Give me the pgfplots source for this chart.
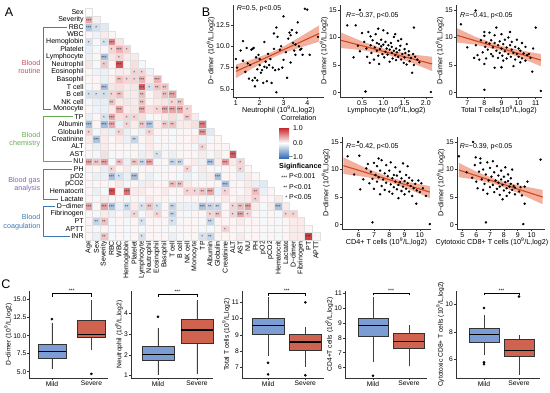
\documentclass[border=0pt]{standalone}
\usepackage{fontspec}
\setmainfont{Liberation Sans}
\usepackage{pgfplots}
\pgfplotsset{compat=1.18}
\usepgfplotslibrary{statistics}
\newcommand\fs[1]{\fontsize{#1}{#1}\selectfont}
\newcommand\nine{10\textsuperscript{9}/L,log2}
\definecolor{mildc}{RGB}{124,156,212}
\definecolor{sevc}{RGB}{208,98,80}
\definecolor{fitc}{RGB}{212,70,28}
\definecolor{bandc}{RGB}{238,150,125}
\definecolor{cred}{RGB}{200,40,45}
\definecolor{cblue}{RGB}{52,110,180}
\definecolor{grR}{RGB}{200,75,90}
\definecolor{grG}{RGB}{100,170,80}
\definecolor{grP}{RGB}{130,100,170}
\definecolor{grB}{RGB}{60,120,180}
\pgfplotsset{
 base/.style={scale only axis, anchor=north west, axis x line*=bottom, axis y line*=left,
   axis line style={line width=0.55pt, black!80},
   every tick/.style={black!80, line width=0.5pt},
   tick align=outside, major tick length=2pt,
   /pgf/number format/assume math mode=true,
   xticklabel style={inner sep=1pt}, yticklabel style={inner sep=1pt},
   xlabel style={inner sep=0pt}, ylabel style={inner sep=0pt}},
 sB/.style={base, ticklabel style={font=\fs{7}}, label style={font=\fs{7.2}},
   ylabel={D−dimer (\nine)}, ymin=-0.8, ymax=15.9, ytick={0,5,10,15}},
 sC/.style={base, clip=false, ticklabel style={font=\fs{6.7}}, label style={font=\fs{6.7}},
   xtick={1,2}, xticklabels={Mild,Severe},
   boxplot/draw direction=y,
   boxplot/every median/.style={line width=1.3pt, black},
   boxplot/every whisker/.style={black!75, line width=0.6pt},
   boxplot/every box/.style={draw=black!80, line width=0.5pt}},
 pts/.style={only marks, mark=*, mark size=1pt, black},
 fitl/.style={fitc, line width=1.1pt},
 band/.style={draw=none, fill=bandc, fill opacity=0.75},
 mbox/.style={fill=mildc, mark=*, mark size=1.1pt, mark options={black, fill=black}},
 sbox/.style={fill=sevc, mark=*, mark size=1.1pt, mark options={black, fill=black}},
 stars/.style={only marks, mark=text, text mark={#1}, text mark as node=true,
   text mark style={font=\fs{4.5}, yshift=-1pt, text=black!85, inner sep=0pt}},
}
\begin{document}
\begin{tikzpicture}
\useasboundingbox (0pt,0pt) rectangle (550pt,-392pt);
% ---------------- Panel A: heatmap
\begin{axis}[scale only axis, anchor=north west, at={(85pt,-8.3pt)}, width=234.7pt, height=231.6pt,
  xmin=-0.5, xmax=30.5, ymin=-31.5, ymax=-0.5, clip=false,
  axis line style={draw=none}, major tick length=0pt,
  xtick={0,1,...,30}, ytick={-31,-30,...,-1},
  xticklabels={Age,Sex,Severity,RBC,WBC,Hemoglobin,Platelet,Lymphocyte,Neutrophil,Eosinophil,Basophil,T cell,B cell,NK cell,Monocyte,TP,Albumin,Globulin,Creatinine,ALT,AST,NU,PH,pO2,pCO2,Hematocrit,Lactate,D−dimer,Fibrinogen,PT,APTT},
  yticklabels={INR,APTT,PT,Fibrinogen,D−dimer,Lactate,Hematocrit,pCO2,pO2,PH,NU,AST,ALT,Creatinine,Globulin,Albumin,TP,Monocyte,NK cell,B cell,T cell,Basophil,Eosinophil,Neutrophil,Lymphocyte,Platelet,Hemoglobin,WBC,RBC,Severity,Sex},
  xticklabel style={rotate=90, anchor=east, font=\fs{7}, inner sep=1pt},
  yticklabel style={font=\fs{7}, inner sep=1.2pt},
  colormap={corr}{rgb255(0cm)=(52,110,180); rgb255(1cm)=(255,255,255); rgb255(2cm)=(200,40,45)},
  point meta min=-1, point meta max=1]
\addplot[scatter, only marks, mark=square*, mark size=3.76pt, point meta=explicit,
  scatter/use mapped color={draw=black!12, fill=mapped color, line width=0.3pt}] coordinates {
(0,-1)[0.02]
(0,-2)[0.40] (1,-2)[0.08]
(0,-3)[-0.38] (1,-3)[-0.22] (2,-3)[-0.15]
(0,-4)[0.05] (1,-4)[-0.08] (2,-4)[0.10] (3,-4)[0.05]
(0,-5)[-0.20] (1,-5)[-0.05] (2,-5)[-0.20] (3,-5)[0.55] (4,-5)[0.12]
(0,-6)[-0.12] (1,-6)[-0.05] (2,-6)[0.05] (3,-6)[0.20] (4,-6)[0.35] (5,-6)[0.22]
(0,-7)[-0.10] (1,-7)[0.05] (2,-7)[-0.42] (3,-7)[0.12] (4,-7)[0.20] (5,-7)[0.10] (6,-7)[0.10]
(0,-8)[0.12] (1,-8)[-0.05] (2,-8)[0.25] (3,-8)[0.05] (4,-8)[0.80] (5,-8)[0.05] (6,-8)[0.15] (7,-8)[-0.05]
(0,-9)[0.05] (1,-9)[-0.08] (2,-9)[-0.10] (3,-9)[0.05] (4,-9)[0.10] (5,-9)[0.08] (6,-9)[0.20] (7,-9)[0.20] (8,-9)[-0.08]
(0,-10)[0.05] (1,-10)[0.05] (2,-10)[-0.10] (3,-10)[0.08] (4,-10)[0.28] (5,-10)[0.20] (6,-10)[0.20] (7,-10)[0.35] (8,-10)[0.10] (9,-10)[0.35]
(0,-11)[-0.05] (1,-11)[0.05] (2,-11)[-0.42] (3,-11)[0.12] (4,-11)[0.15] (5,-11)[0.10] (6,-11)[0.12] (7,-11)[0.75] (8,-11)[-0.20] (9,-11)[0.28] (10,-11)[0.28]
(0,-12)[-0.20] (1,-12)[-0.20] (2,-12)[-0.22] (3,-12)[0.20] (4,-12)[0.28] (5,-12)[0.10] (6,-12)[0.10] (7,-12)[0.30] (8,-12)[0.05] (9,-12)[0.15] (10,-12)[0.30] (11,-12)[0.42]
(0,-13)[-0.05] (1,-13)[-0.10] (2,-13)[-0.12] (3,-13)[0.28] (4,-13)[0.10] (5,-13)[0.12] (6,-13)[0.10] (7,-13)[0.28] (8,-13)[0.05] (9,-13)[0.10] (10,-13)[0.12] (11,-13)[0.20] (12,-13)[0.28]
(0,-14)[0.05] (1,-14)[-0.08] (2,-14)[-0.10] (3,-14)[0.10] (4,-14)[0.40] (5,-14)[0.10] (6,-14)[0.12] (7,-14)[0.40] (8,-14)[0.15] (9,-14)[0.20] (10,-14)[0.42] (11,-14)[0.42] (12,-14)[0.42] (13,-14)[0.20]
(0,-15)[-0.10] (1,-15)[0.05] (2,-15)[-0.20] (3,-15)[0.40] (4,-15)[0.15] (5,-15)[0.20] (6,-15)[0.20] (7,-15)[0.15] (8,-15)[-0.05] (9,-15)[0.05] (10,-15)[0.10] (11,-15)[0.15] (12,-15)[0.10] (13,-15)[0.25] (14,-15)[0.10]
(0,-16)[-0.42] (1,-16)[0.05] (2,-16)[-0.45] (3,-16)[0.40] (4,-16)[-0.10] (5,-16)[0.20] (6,-16)[0.10] (7,-16)[0.28] (8,-16)[-0.40] (9,-16)[0.10] (10,-16)[0.25] (11,-16)[0.28] (12,-16)[0.10] (13,-16)[0.10] (14,-16)[0.15] (15,-16)[0.60]
(0,-17)[0.20] (1,-17)[-0.05] (2,-17)[0.10] (3,-17)[-0.10] (4,-17)[0.20] (5,-17)[-0.10] (6,-17)[0.05] (7,-17)[-0.10] (8,-17)[0.20] (9,-17)[0.05] (10,-17)[0.05] (11,-17)[-0.05] (12,-17)[0.05] (13,-17)[0.05] (14,-17)[0.05] (15,-17)[0.50] (16,-17)[-0.15]
(0,-18)[0.10] (1,-18)[-0.40] (2,-18)[0.10] (3,-18)[0.05] (4,-18)[0.10] (5,-18)[-0.10] (6,-18)[-0.28] (7,-18)[0.05] (8,-18)[0.10] (9,-18)[-0.05] (10,-18)[0.05] (11,-18)[-0.05] (12,-18)[0.05] (13,-18)[0.05] (14,-18)[0.10] (15,-18)[-0.10] (16,-18)[-0.05] (17,-18)[0.05]
(0,-19)[0.05] (1,-19)[-0.10] (2,-19)[0.10] (3,-19)[0.05] (4,-19)[0.05] (5,-19)[0.05] (6,-19)[0.05] (7,-19)[-0.05] (8,-19)[0.10] (9,-19)[0.05] (10,-19)[-0.05] (11,-19)[0.05] (12,-19)[0.05] (13,-19)[0.05] (14,-19)[-0.05] (15,-19)[0.20] (16,-19)[0.05] (17,-19)[0.05] (18,-19)[0.05]
(0,-20)[0.05] (1,-20)[-0.05] (2,-20)[0.15] (3,-20)[-0.05] (4,-20)[0.05] (5,-20)[-0.05] (6,-20)[0.05] (7,-20)[-0.10] (8,-20)[0.10] (9,-20)[-0.20] (10,-20)[0.05] (11,-20)[-0.10] (12,-20)[0.05] (13,-20)[0.05] (14,-20)[0.05] (15,-20)[0.10] (16,-20)[-0.05] (17,-20)[0.10] (18,-20)[0.05] (19,-20)[0.75]
(0,-21)[0.42] (1,-21)[0.28] (2,-21)[0.42] (3,-21)[-0.05] (4,-21)[0.28] (5,-21)[-0.10] (6,-21)[0.28] (7,-21)[-0.28] (8,-21)[0.42] (9,-21)[-0.05] (10,-21)[0.05] (11,-21)[-0.28] (12,-21)[-0.28] (13,-21)[0.05] (14,-21)[0.10] (15,-21)[-0.10] (16,-21)[-0.42] (17,-21)[0.10] (18,-21)[0.45] (19,-21)[0.10] (20,-21)[0.20]
(0,-22)[0.05] (1,-22)[0.05] (2,-22)[-0.10] (3,-22)[0.20] (4,-22)[0.05] (5,-22)[0.10] (6,-22)[-0.05] (7,-22)[0.05] (8,-22)[0.05] (9,-22)[0.05] (10,-22)[-0.05] (11,-22)[0.05] (12,-22)[0.05] (13,-22)[0.20] (14,-22)[-0.05] (15,-22)[0.10] (16,-22)[0.05] (17,-22)[-0.05] (18,-22)[0.05] (19,-22)[0.05] (20,-22)[0.20] (21,-22)[0.05]
(0,-23)[0.05] (1,-23)[-0.10] (2,-23)[-0.10] (3,-23)[-0.42] (4,-23)[-0.20] (5,-23)[-0.10] (6,-23)[-0.42] (7,-23)[0.05] (8,-23)[-0.10] (9,-23)[-0.05] (10,-23)[0.05] (11,-23)[0.05] (12,-23)[-0.05] (13,-23)[-0.10] (14,-23)[-0.05] (15,-23)[-0.10] (16,-23)[0.10] (17,-23)[-0.42] (18,-23)[0.05] (19,-23)[0.05] (20,-23)[-0.10] (21,-23)[0.10] (22,-23)[0.05]
(0,-24)[0.05] (1,-24)[0.05] (2,-24)[0.05] (3,-24)[0.05] (4,-24)[0.10] (5,-24)[-0.05] (6,-24)[0.05] (7,-24)[-0.10] (8,-24)[0.10] (9,-24)[0.05] (10,-24)[0.05] (11,-24)[0.30] (12,-24)[0.30] (13,-24)[0.10] (14,-24)[0.05] (15,-24)[0.05] (16,-24)[0.05] (17,-24)[0.05] (18,-24)[-0.42] (19,-24)[0.05] (20,-24)[0.05] (21,-24)[0.10] (22,-24)[-0.10] (23,-24)[-0.15]
(0,-25)[0.05] (1,-25)[-0.10] (2,-25)[-0.05] (3,-25)[0.80] (4,-25)[0.05] (5,-25)[0.65] (6,-25)[0.10] (7,-25)[0.10] (8,-25)[0.05] (9,-25)[0.05] (10,-25)[0.10] (11,-25)[0.05] (12,-25)[0.05] (13,-25)[0.20] (14,-25)[0.20] (15,-25)[0.28] (16,-25)[0.40] (17,-25)[-0.10] (18,-25)[0.20] (19,-25)[0.05] (20,-25)[0.05] (21,-25)[0.10] (22,-25)[0.30] (23,-25)[-0.10] (24,-25)[0.05]
(0,-26)[0.05] (1,-26)[0.05] (2,-26)[0.10] (3,-26)[-0.05] (4,-26)[0.05] (5,-26)[-0.05] (6,-26)[0.05] (7,-26)[-0.05] (8,-26)[0.10] (9,-26)[0.05] (10,-26)[0.05] (11,-26)[-0.05] (12,-26)[0.05] (13,-26)[0.05] (14,-26)[0.05] (15,-26)[0.05] (16,-26)[-0.05] (17,-26)[0.05] (18,-26)[0.10] (19,-26)[0.05] (20,-26)[0.10] (21,-26)[0.10] (22,-26)[0.22] (23,-26)[0.05] (24,-26)[0.05] (25,-26)[0.10]
(0,-27)[0.42] (1,-27)[0.05] (2,-27)[0.42] (3,-27)[-0.40] (4,-27)[-0.10] (5,-27)[-0.28] (6,-27)[0.10] (7,-27)[-0.20] (8,-27)[0.28] (9,-27)[-0.20] (10,-27)[0.05] (11,-27)[-0.28] (12,-27)[-0.10] (13,-27)[-0.10] (14,-27)[-0.10] (15,-27)[-0.40] (16,-27)[-0.28] (17,-27)[-0.28] (18,-27)[0.05] (19,-27)[0.20] (20,-27)[0.30] (21,-27)[0.42] (22,-27)[0.10] (23,-27)[-0.05] (24,-27)[0.10] (25,-27)[-0.42] (26,-27)[0.10]
(0,-28)[0.05] (1,-28)[-0.05] (2,-28)[0.10] (3,-28)[-0.10] (4,-28)[0.05] (5,-28)[-0.10] (6,-28)[0.20] (7,-28)[-0.05] (8,-28)[0.10] (9,-28)[0.20] (10,-28)[0.05] (11,-28)[-0.28] (12,-28)[0.05] (13,-28)[-0.05] (14,-28)[0.05] (15,-28)[0.05] (16,-28)[0.20] (17,-28)[0.28] (18,-28)[0.05] (19,-28)[0.20] (20,-28)[0.42] (21,-28)[0.20] (22,-28)[0.05] (23,-28)[-0.05] (24,-28)[0.05] (25,-28)[-0.05] (26,-28)[0.20] (27,-28)[0.20]
(0,-29)[0.05] (1,-29)[-0.28] (2,-29)[0.28] (3,-29)[-0.05] (4,-29)[0.05] (5,-29)[-0.05] (6,-29)[0.05] (7,-29)[-0.20] (8,-29)[0.05] (9,-29)[0.05] (10,-29)[0.05] (11,-29)[-0.20] (12,-29)[-0.05] (13,-29)[0.05] (14,-29)[0.05] (15,-29)[-0.05] (16,-29)[-0.28] (17,-29)[0.05] (18,-29)[0.05] (19,-29)[0.05] (20,-29)[0.10] (21,-29)[0.05] (22,-29)[0.05] (23,-29)[-0.05] (24,-29)[0.05] (25,-29)[-0.05] (26,-29)[0.05] (27,-29)[0.10] (28,-29)[0.10]
(0,-30)[0.05] (1,-30)[-0.05] (2,-30)[0.05] (3,-30)[-0.05] (4,-30)[0.05] (5,-30)[-0.05] (6,-30)[0.05] (7,-30)[-0.05] (8,-30)[0.05] (9,-30)[0.05] (10,-30)[-0.05] (11,-30)[-0.05] (12,-30)[0.05] (13,-30)[0.05] (14,-30)[0.05] (15,-30)[-0.05] (16,-30)[-0.05] (17,-30)[0.05] (18,-30)[0.20] (19,-30)[0.05] (20,-30)[0.05] (21,-30)[0.05] (22,-30)[0.05] (23,-30)[0.05] (24,-30)[-0.05] (25,-30)[0.05] (26,-30)[0.05] (27,-30)[0.10] (28,-30)[0.10] (29,-30)[0.05]
(0,-31)[0.05] (1,-31)[-0.10] (2,-31)[0.28] (3,-31)[-0.05] (4,-31)[0.05] (5,-31)[-0.05] (6,-31)[0.05] (7,-31)[-0.20] (8,-31)[0.05] (9,-31)[0.05] (10,-31)[0.05] (11,-31)[-0.10] (12,-31)[-0.05] (13,-31)[0.05] (14,-31)[0.05] (15,-31)[-0.20] (16,-31)[-0.28] (17,-31)[0.05] (18,-31)[0.05] (19,-31)[0.05] (20,-31)[0.10] (21,-31)[0.05] (22,-31)[0.05] (23,-31)[-0.05] (24,-31)[0.05] (25,-31)[-0.05] (26,-31)[0.05] (27,-31)[0.10] (28,-31)[0.10] (29,-31)[0.90] (30,-31)[0.05]
};
% significance stars
\addplot[stars={***}] coordinates {
(0,-2)(0,-3)(3,-5)(4,-6)(2,-7)(4,-8)(7,-10)(9,-10)(2,-11)(7,-11)(11,-12)(4,-14)(7,-14)(10,-14)(11,-14)(12,-14)(3,-15)
(0,-16)(2,-16)(3,-16)(8,-16)(15,-16)(15,-17)(1,-18)(19,-20)(0,-21)(2,-21)(8,-21)(16,-21)(18,-21)(3,-23)(6,-23)(17,-23)(18,-24)
(3,-25)(5,-25)(16,-25)(0,-27)(2,-27)(3,-27)(15,-27)(21,-27)(25,-27)(20,-28)(29,-31)};
\addplot[stars={**}] coordinates {
(4,-10)(9,-11)(10,-11)(4,-12)(7,-12)(10,-12)(3,-13)(7,-13)(12,-13)(13,-15)(7,-16)(10,-16)(11,-16)(6,-18)(1,-21)(4,-21)(6,-21)(7,-21)(11,-21)(12,-21)
(11,-24)(12,-24)(15,-25)(22,-25)(5,-27)(8,-27)(11,-27)(16,-27)(17,-27)(20,-27)(11,-28)(17,-28)(1,-29)(2,-29)(16,-29)(2,-31)(16,-31)};
\addplot[stars={*}] coordinates {
(1,-3)(0,-5)(2,-5)(3,-6)(5,-6)(4,-7)(2,-8)(6,-9)(7,-9)(5,-10)(6,-10)(8,-11)(0,-12)(1,-12)(2,-12)(3,-12)(11,-13)(9,-14)(13,-14)(2,-15)(5,-15)(6,-15)
(5,-16)(0,-17)(4,-17)(8,-17)(15,-19)(9,-20)(20,-21)(3,-22)(13,-22)(20,-22)(4,-23)(13,-25)(14,-25)(18,-25)(22,-26)(7,-27)(9,-27)(19,-27)
(6,-28)(9,-28)(16,-28)(19,-28)(21,-28)(26,-28)(27,-28)(7,-29)(11,-29)(18,-30)(7,-31)(15,-31)};
\end{axis}
% group brackets
\draw[grR, line width=0.6pt] (67pt,-27pt) -- (43pt,-27pt) -- (43pt,-109.1pt) -- (51pt,-109.1pt);
\draw[grG, line width=0.6pt] (73pt,-116.6pt) -- (43pt,-116.6pt) -- (43pt,-161.4pt) -- (72pt,-161.4pt);
\draw[grP, line width=0.6pt] (72pt,-168.9pt) -- (43pt,-168.9pt) -- (43pt,-198.8pt) -- (58pt,-198.8pt);
\draw[grB, line width=0.6pt] (55pt,-206.3pt) -- (43pt,-206.3pt) -- (43pt,-236.1pt) -- (70pt,-236.1pt);
\node[anchor=east, align=right, text=grR, font=\fontsize{7.2}{8.6}\selectfont, inner sep=0pt] at (40.5pt,-67pt) {Blood\\routine};
\node[anchor=east, align=right, text=grG, font=\fontsize{7.2}{8.6}\selectfont, inner sep=0pt] at (40.5pt,-139.5pt) {Blood\\chemistry};
\node[anchor=east, align=right, text=grP, font=\fontsize{7.2}{8.6}\selectfont, inner sep=0pt] at (40.5pt,-184.5pt) {Blood gas\\analysis};
\node[anchor=east, align=right, text=grB, font=\fontsize{7.2}{8.6}\selectfont, inner sep=0pt] at (40.5pt,-222pt) {Blood\\coagulation};
% colour bar legend
\node[anchor=west, font=\fs{7.2}, inner sep=0pt] at (281pt,-118pt) {Correlation};
\shade[top color=cred, bottom color=cblue, middle color=white] (279pt,-128pt) rectangle (289pt,-158pt);
\node[anchor=east, font=\fs{7}, inner sep=0pt] at (303pt,-128.5pt) {1.0};
\node[anchor=east, font=\fs{7}, inner sep=0pt] at (303pt,-143pt) {0.0};
\node[anchor=east, font=\fs{7}, inner sep=0pt] at (303pt,-157.5pt) {−1.0};
\node[anchor=west, font=\bfseries\fs{7.2}, inner sep=0pt] at (279pt,-166.5pt) {Siginficance};
\node[anchor=east, font=\fs{5}, inner sep=0pt] at (287.5pt,-177.5pt) {***};
\node[anchor=east, font=\fs{5}, inner sep=0pt] at (287.5pt,-187.7pt) {**};
\node[anchor=east, font=\fs{5}, inner sep=0pt] at (287.5pt,-197.7pt) {*};
\node[anchor=west, font=\fs{7}, inner sep=0pt] at (289pt,-176.5pt) {P<0.001};
\node[anchor=west, font=\fs{7}, inner sep=0pt] at (289pt,-186.7pt) {P<0.01};
\node[anchor=west, font=\fs{7}, inner sep=0pt] at (289pt,-196.7pt) {P<0.05};
% panel letters
\node[font=\fs{12.5}, inner sep=0pt] at (9pt,-12pt) {A};
\node[font=\fs{12.5}, inner sep=0pt] at (206pt,-11.7pt) {B};
\node[font=\fs{12.5}, inner sep=0pt] at (6pt,-284pt) {C};
% ---------------- Panel B
\begin{axis}[sB, at={(233pt,-4.5pt)}, width=91pt, height=92.5pt, xmin=0.88, xmax=4.7, ymin=4.05, ymax=14.9,
  xtick={1,2,3,4}, ytick={5,7.5,10,12.5}, yticklabels={5.0,7.5,10.0,12.5}, xlabel={Neutrophil (\nine)}]
\addplot[band] coordinates {(1,7.85)(1.5,8.29)(2,8.77)(2.6,9.43)(3,9.97)(3.5,10.78)(4,11.61)(4.5,12.45)(4.5,10.55)(4,10.11)(3.5,9.68)(3,9.21)(2.6,8.73)(2,7.87)(1.5,7.09)(1,6.25)};
\addplot[fitl] coordinates {(1,7.05)(4.5,11.5)};
\addplot[pts] coordinates {(1.0,8.5)(1.05,7.5)(1.2,9.5)(1.3,10.6)(1.3,8.3)(1.4,7.0)(1.45,9.8)(1.5,8.0)(1.55,6.2)(1.6,7.8)(1.65,9.6)(1.7,9.7)(1.7,6.0)(1.75,9.8)(1.8,6.3)(1.8,5.3)(1.85,8.7)(1.9,7.3)(1.9,6.0)(1.95,9.0)(2.0,8.5)(2.0,7.8)(2.05,6.9)(2.1,7.2)(2.15,5.7)(2.2,7.6)(2.2,10.5)(2.25,8.2)(2.3,5.9)(2.3,7.5)(2.35,9.1)(2.4,7.8)(2.45,8.5)(2.5,5.7)(2.55,7.5)(2.6,11.5)(2.6,9.7)(2.65,7.2)(2.7,12.2)(2.7,4.6)(2.75,11.1)(2.8,7.3)(2.85,9.6)(2.9,10.0)(2.95,7.5)(3.0,13.5)(3.0,8.4)(3.1,9.3)(3.15,6.3)(3.2,10.9)(3.25,11.6)(3.3,11.3)(3.3,8.1)(3.35,11.9)(3.4,10.4)(3.45,9.5)(3.5,9.0)(3.5,10.2)(3.55,11.6)(3.6,12.8)(3.65,10.0)(3.7,9.6)(3.75,9.7)(3.8,9.0)(3.9,14.4)(4.0,14.3)(4.1,9.0)(4.45,11.1)};
\node[anchor=west, font=\fs{7}, inner sep=0pt] at (rel axis cs:0.04,0.955) {\textit{R}=0.5, p<0.05};
\end{axis}
\begin{axis}[sB, at={(340pt,-5pt)}, width=93pt, height=92pt, xmin=-0.02, xmax=2.17,
  xtick={0.5,1,1.5,2}, xticklabels={0.5,1.0,1.5,2.0}, xlabel={Lymphocyte (\nine)}]
\addplot[band] coordinates {(0,10.9)(0.5,9.3)(1.1,7.75)(1.6,7.0)(2.15,6.5)(2.15,3.9)(1.6,5.6)(1.1,6.85)(0.5,7.7)(0,8.1)};
\addplot[fitl] coordinates {(0,9.5)(2.15,5.2)};
\addplot[pts] coordinates {(0.15,12.2)(0.35,12.2)(0.45,15.0)(0.3,6.4)(0.58,0.2)(2.12,0.1)(1.72,11.8)(1.68,3.6)(0.5,10.8)(0.55,9.2)(0.6,8.0)(0.62,6.5)(0.65,11.0)(0.7,10.2)(0.7,8.6)(0.72,7.2)(0.75,9.5)(0.78,6.0)(0.8,8.2)(0.82,10.6)(0.85,7.6)(0.85,9.0)(0.88,6.7)(0.9,8.8)(0.9,5.2)(0.92,7.9)(0.95,9.6)(0.95,8.4)(0.98,7.0)(1.0,11.3)(1.0,8.7)(1.02,6.4)(1.05,9.2)(1.05,7.4)(1.08,8.0)(1.1,10.8)(1.1,6.9)(1.12,8.6)(1.15,7.8)(1.15,5.6)(1.18,9.0)(1.2,7.2)(1.2,8.3)(1.22,6.2)(1.25,10.1)(1.25,7.6)(1.28,6.8)(1.3,8.0)(1.3,5.9)(1.32,7.3)(1.35,9.4)(1.35,6.5)(1.38,7.7)(1.4,8.5)(1.42,6.0)(1.45,7.0)(1.48,5.4)(1.5,7.9)(1.5,6.4)(1.52,7.2)(1.55,8.8)(1.55,5.1)(1.6,6.8)(1.6,7.5)(1.62,5.7)(1.65,6.3)(1.7,7.0)(1.72,5.0)(1.75,6.5)(1.8,6.0)(1.85,5.5)(0.4,8.5)(0.45,7.5)(0.68,5.4)(1.28,10.6)(0.88,11.6)(1.42,9.7)};
\node[anchor=west, font=\fs{7}, inner sep=0pt] at (rel axis cs:0.065,0.885) {\textit{R}=−0.37, p<0.05};
\end{axis}
\begin{axis}[sB, at={(456pt,-5pt)}, width=86pt, height=92pt, xmin=6.34, xmax=11.37,
  xtick={7,8,9,10,11}, xlabel={Total T cells(\nine)}]
\addplot[band] coordinates {(6.4,11.7)(7.5,10.09)(8.9,8.55)(10,7.75)(11.3,7.0)(11.3,4.8)(10,6.45)(8.9,7.65)(7.5,8.69)(6.4,9.1)};
\addplot[fitl] coordinates {(6.4,10.4)(11.3,5.9)};
\addplot[pts] coordinates {(6.63,12.4)(7.49,14.9)(8.0,0.5)(11.0,11.8)(10.8,3.8)(11.3,0.3)(7.0,8.2)(7.4,6.3)(7.5,8.6)(7.6,6.8)(7.8,9.5)(7.9,7.3)(8.0,11.0)(8.0,10.3)(8.05,8.3)(8.1,9.1)(8.1,6.2)(8.2,7.8)(8.3,8.9)(8.3,10.9)(8.4,7.0)(8.4,9.5)(8.5,8.2)(8.5,6.6)(8.6,9.0)(8.6,10.4)(8.7,7.6)(8.7,11.8)(8.8,8.6)(8.8,6.3)(8.9,9.3)(8.9,7.2)(9.0,8.0)(9.0,10.6)(9.05,6.7)(9.1,8.8)(9.1,5.8)(9.2,7.5)(9.2,9.6)(9.3,8.2)(9.3,6.2)(9.4,10.0)(9.4,7.0)(9.5,8.6)(9.5,11.0)(9.55,6.5)(9.6,7.8)(9.6,9.2)(9.7,4.8)(9.7,7.2)(9.8,8.3)(9.8,6.0)(9.9,9.6)(9.9,7.0)(10.0,6.5)(10.0,8.0)(10.1,5.5)(10.1,7.6)(10.2,9.0)(10.2,6.2)(10.3,7.1)(10.4,5.8)(10.4,8.3)(10.5,6.8)(10.6,7.0)(10.7,6.3)(10.85,8.0)(8.6,4.5)(9.0,4.6)(7.7,6.0)(8.0,5.2)};
\node[anchor=west, font=\fs{7}, inner sep=0pt] at (rel axis cs:0.047,0.885) {\textit{R}=−0.41, p<0.05};
\end{axis}
\begin{axis}[sB, at={(342pt,-137pt)}, width=89pt, height=92pt, xmin=4.91, xmax=10.73,
  xtick={6,7,8,9,10}, xlabel={CD4+ T cells (\nine)}]
\addplot[band] coordinates {(5,12.2)(6.5,10.23)(8.2,8.43)(9.5,7.58)(10.65,7.0)(10.65,4.8)(9.5,6.18)(8.2,7.53)(6.5,8.63)(5,9.2)};
\addplot[fitl] coordinates {(5,10.7)(10.65,5.9)};
\addplot[pts] coordinates {(5.97,15.0)(5.28,12.4)(6.04,12.5)(6.9,0.4)(10.65,0.1)(9.77,3.8)(5.7,9.1)(6.3,8.2)(6.5,10.2)(6.6,11.0)(6.7,7.5)(6.8,9.6)(6.9,8.3)(7.0,11.2)(7.0,6.5)(7.1,9.0)(7.2,10.6)(7.2,7.8)(7.3,8.6)(7.4,5.5)(7.4,9.8)(7.5,7.0)(7.5,11.7)(7.6,8.2)(7.7,6.3)(7.7,9.3)(7.8,10.8)(7.8,7.6)(7.9,8.8)(8.0,6.0)(8.0,9.8)(8.1,7.3)(8.1,11.3)(8.2,8.4)(8.2,5.6)(8.3,9.0)(8.3,6.8)(8.4,7.8)(8.4,10.4)(8.5,6.4)(8.5,8.9)(8.6,7.2)(8.6,4.8)(8.7,9.6)(8.7,7.7)(8.8,6.1)(8.8,8.4)(8.9,6.9)(8.9,11.1)(9.0,7.9)(9.0,5.5)(9.1,9.0)(9.1,6.5)(9.2,7.5)(9.2,10.6)(9.3,6.0)(9.3,8.5)(9.4,7.0)(9.5,5.2)(9.5,8.0)(9.6,6.6)(9.7,7.4)(9.8,6.2)(9.9,8.0)(10.0,5.9)(10.1,7.5)(10.2,6.6)(10.4,5.2)(6.1,6.4)(7.3,12.0)};
\node[anchor=west, font=\fs{7}, inner sep=0pt] at (rel axis cs:0.045,0.89) {\textit{R}=−0.42, p<0.05};
\end{axis}
\begin{axis}[sB, at={(457pt,-137pt)}, width=88pt, height=92pt, xmin=4.61, xmax=10.97,
  xtick={5,6,7,8,9,10}, xlabel={Cytotoxic CD8+ T cells (\nine)}, xlabel style={xshift=-9pt}]
\addplot[band] coordinates {(4.75,11.2)(6,9.64)(7.5,8.12)(9,7.16)(10.8,6.3)(10.8,3.7)(9,5.76)(7.5,7.22)(6,8.14)(4.75,8.6)};
\addplot[fitl] coordinates {(4.75,9.9)(10.8,5.0)};
\addplot[pts] coordinates {(5.77,15.0)(4.75,12.4)(5.96,12.2)(6.3,12.0)(6.7,0.4)(9.4,0.1)(9.5,3.8)(10.65,11.8)(5.3,9.5)(5.7,8.5)(5.9,10.8)(6.0,7.8)(6.2,9.6)(6.3,11.2)(6.4,8.2)(6.5,6.3)(6.5,10.0)(6.6,7.4)(6.7,9.1)(6.8,11.3)(6.8,5.6)(6.9,8.0)(7.0,10.3)(7.0,6.8)(7.1,8.7)(7.2,7.2)(7.2,11.5)(7.3,9.5)(7.3,5.9)(7.4,8.0)(7.5,6.5)(7.5,10.6)(7.6,7.6)(7.6,8.9)(7.7,5.4)(7.7,6.9)(7.8,8.2)(7.8,9.8)(7.9,7.2)(7.9,4.6)(8.0,6.2)(8.0,8.7)(8.1,7.7)(8.1,10.4)(8.2,6.6)(8.2,5.2)(8.3,7.9)(8.3,9.1)(8.4,6.9)(8.4,5.8)(8.5,7.4)(8.5,8.4)(8.6,6.3)(8.7,7.0)(8.8,5.5)(8.8,6.7)(9.0,7.4)(9.1,6.0)(9.2,6.8)(9.3,5.3)(9.5,6.9)(9.7,7.8)(6.1,6.6)(8.6,10.0)};
\node[anchor=west, font=\fs{7}, inner sep=0pt] at (rel axis cs:0.03,0.89) {\textit{R}=−0.39, p<0.05};
\end{axis}
% ---------------- Panel C
\begin{axis}[sC, at={(29.5pt,-291pt)}, width=78.5pt, height=87pt, xmin=0.43, xmax=2.42, ymin=4.13, ymax=16.2,
  ytick={5,7.5,10,12.5,15}, yticklabels={5.0,7.5,10.0,12.5,15.0}, ylabel={D−dimer (\nine)}]
\addplot[mbox, boxplot prepared={lower whisker=5.35, lower quartile=6.85, median=7.8, upper quartile=8.88, upper whisker=11.8, draw position=1, box extend=0.7, whisker extend=0}] table[row sep=\\, y index=0] {12.3\\};
\addplot[sbox, boxplot prepared={lower whisker=7.95, lower quartile=9.8, median=10.2, upper quartile=12.1, upper whisker=15.0, draw position=2, box extend=0.7, whisker extend=0}] table[row sep=\\, y index=0] {4.7\\};
\addplot[black, line width=0.5pt] coordinates {(1,15.4)(1,15.95)(2,15.95)(2,15.4)};
\node[font=\fs{5}, anchor=south, inner sep=0.5pt] at (axis cs:1.5,15.95) {***};
\end{axis}
\begin{axis}[sC, at={(131pt,-291pt)}, width=82pt, height=87pt, xmin=0.31, xmax=2.41, ymin=0.87, ymax=5.1,
  ytick={1,2,3,4}, ylabel={Neutrophil (\nine)}]
\addplot[mbox, boxplot prepared={lower whisker=1.0, lower quartile=1.75, median=2.02, upper quartile=2.43, upper whisker=3.3, draw position=1, box extend=0.82, whisker extend=0}] table[row sep=\\, y index=0] {3.85\\};
\addplot[sbox, boxplot prepared={lower whisker=1.05, lower quartile=2.55, median=3.2, upper quartile=3.72, upper whisker=4.65, draw position=2, box extend=0.82, whisker extend=0}] coordinates {};
\addplot[black, line width=0.5pt] coordinates {(1,4.8)(1,4.95)(2,4.95)(2,4.8)};
\node[font=\fs{5}, anchor=south, inner sep=0.5pt] at (axis cs:1.5,4.95) {***};
\end{axis}
\begin{axis}[sC, at={(242pt,-291pt)}, width=82pt, height=87pt, xmin=0.3, xmax=2.5, ymin=6.33, ymax=11.7,
  ytick={7,8,9,10,11}, ylabel={Total T cells (\nine)}]
\addplot[mbox, boxplot prepared={lower whisker=7.7, lower quartile=9.05, median=9.58, upper quartile=10.02, upper whisker=11.3, draw position=1, box extend=0.85, whisker extend=0}] table[row sep=\\, y index=0] {7.27\\6.55\\};
\addplot[sbox, boxplot prepared={lower whisker=7.0, lower quartile=8.02, median=8.55, upper quartile=9.02, upper whisker=9.5, draw position=2, box extend=0.85, whisker extend=0}] table[row sep=\\, y index=0] {11.0\\6.5\\};
\addplot[black, line width=0.5pt] coordinates {(1,11.4)(1,11.55)(2,11.55)(2,11.4)};
\node[font=\fs{5}, anchor=south, inner sep=0.5pt] at (axis cs:1.5,11.55) {***};
\end{axis}
\begin{axis}[sC, at={(345pt,-291pt)}, width=82pt, height=87pt, xmin=0.22, xmax=2.5, ymin=5.3, ymax=11.15,
  ytick={6,7,8,9,10,11}, ylabel={CD4+T cells (\nine)}]
\addplot[mbox, boxplot prepared={lower whisker=6.4, lower quartile=8.1, median=8.82, upper quartile=9.32, upper whisker=10.75, draw position=1, box extend=0.85, whisker extend=0}] table[row sep=\\, y index=0] {5.45\\};
\addplot[sbox, boxplot prepared={lower whisker=6.1, lower quartile=7.28, median=7.77, upper quartile=8.33, upper whisker=8.85, draw position=2, box extend=0.85, whisker extend=0}] coordinates {};
\addplot[black, line width=0.5pt] coordinates {(1,10.85)(1,11.0)(2,11.0)(2,10.85)};
\node[font=\fs{5}, anchor=south, inner sep=0.5pt] at (axis cs:1.5,11.0) {***};
\end{axis}
\begin{axis}[sC, at={(456pt,-291pt)}, width=84pt, height=87pt, xmin=0.2, xmax=2.6, ymin=4.6, ymax=11.0,
  ytick={6,8,10}, ylabel={Cytotoxic CD8+ T cells (\nine)}]
\addplot[mbox, boxplot prepared={lower whisker=6.3, lower quartile=7.25, median=7.8, upper quartile=8.25, upper whisker=9.25, draw position=1, box extend=0.85, whisker extend=0}] table[row sep=\\, y index=0] {9.75\\5.75\\5.62\\};
\addplot[sbox, boxplot prepared={lower whisker=4.85, lower quartile=6.2, median=6.62, upper quartile=7.42, upper whisker=7.75, draw position=2, box extend=0.85, whisker extend=0}] table[row sep=\\, y index=0] {10.6\\};
\addplot[black, line width=0.5pt] coordinates {(1,10.7)(1,10.85)(2,10.85)(2,10.7)};
\node[font=\fs{5}, anchor=south, inner sep=0.5pt] at (axis cs:1.5,10.85) {***};
\end{axis}
\end{tikzpicture}
\end{document}
